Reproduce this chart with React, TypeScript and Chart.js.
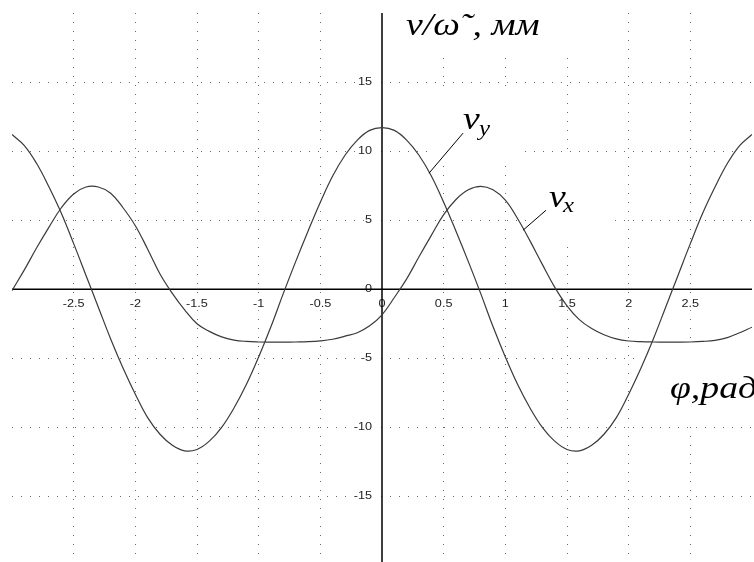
import React, { useEffect, useRef } from "react";
import { Chart, registerables } from "chart.js";

Chart.register(...registerables);

// Crank angle φ, rad
const phi = [
  -3.0, -2.9, -2.8, -2.7, -2.6, -2.5, -2.4, -2.3, -2.2, -2.1,
  -2.0, -1.9, -1.8, -1.7, -1.6, -1.5, -1.4, -1.3, -1.2, -1.1,
  -1.0, -0.9, -0.8, -0.7, -0.6, -0.5, -0.4, -0.3, -0.2, -0.1,
  0.0, 0.1, 0.2, 0.3, 0.4, 0.5, 0.6, 0.7, 0.8, 0.9,
  1.0, 1.1, 1.2, 1.3, 1.4, 1.5, 1.6, 1.7, 1.8, 1.9,
  2.0, 2.1, 2.2, 2.3, 2.4, 2.5, 2.6, 2.7, 2.8, 2.9,
  3.0,
];

// Velocity analogue, vertical component v_y, mm
const vyValues = [
  11.2, 10.4, 9.1, 7.4, 5.5, 3.3, 1.0, -1.3, -3.6, -5.7,
  -7.6, -9.3, -10.5, -11.3, -11.7, -11.6, -11.0, -10.0, -8.6, -6.9,
  -4.9, -2.7, -0.3, 2.0, 4.2, 6.3, 8.2, 9.7, 10.8, 11.5,
  11.7, 11.5, 10.8, 9.7, 8.2, 6.3, 4.2, 2.0, -0.3, -2.7,
  -4.9, -6.9, -8.6, -10.0, -11.0, -11.6, -11.7, -11.3, -10.5, -9.3,
  -7.6, -5.7, -3.6, -1.3, 1.0, 3.3, 5.5, 7.4, 9.1, 10.4,
  11.2,
];

// Velocity analogue, horizontal component v_x, mm
const vxValues = [
  -0.1, 1.4, 3.0, 4.5, 5.9, 6.9, 7.4, 7.4, 6.95, 5.9,
  4.6, 2.9, 1.1, -0.3, -1.5, -2.5, -3.05, -3.45, -3.68, -3.78,
  -3.82, -3.83, -3.83, -3.82, -3.8, -3.74, -3.62, -3.4, -3.15, -2.65,
  -1.85, -0.6, 0.75, 2.35, 3.9, 5.4, 6.5, 7.2, 7.45, 7.2,
  6.45, 5.1, 3.5, 1.8, 0.15, -1.2, -2.2, -2.85, -3.3, -3.6,
  -3.75, -3.8, -3.82, -3.83, -3.83, -3.82, -3.78, -3.7, -3.5, -3.15,
  -2.75,
];

// Tick labels written along the axes
const xLabelValues = [-2.5, -2, -1.5, -1, -0.5, 0, 0.5, 1, 1.5, 2, 2.5];
const xLabelText = ["-2.5", "-2", "-1.5", "-1", "-0.5", "0", "0.5", "1", "1.5", "2", "2.5"];
const yLabelValues = [-15, -10, -5, 0, 5, 10, 15];
const yLabelText = ["-15", "-10", "-5", "0", "5", "10", "15"];

// Dotted grid positions (the zero lines are the axes themselves)
const xGridValues = [-2.5, -2, -1.5, -1, -0.5, 0.5, 1, 1.5, 2, 2.5];
const yGridValues = [-15, -10, -5, 5, 10, 15];

const X_MIN = -3;
const X_MAX = 3;
const Y_MIN = -19.75;
const Y_MAX = 20;

const SERIF = '"Liberation Serif", "Times New Roman", serif';
const SANS = '"Liberation Sans", Arial, sans-serif';
const TICK_FONT = `11px ${SANS}`;
const TICK_STRETCH = 1.15;
const LABEL_FONT = `italic 32px ${SERIF}`;
const SUB_FONT = `italic 21px ${SERIF}`;
const LABEL_STRETCH = 1.18;

// Text regions (data units) that blank out the grid behind them
const textBoxes = [
  { x0: 0.06, x1: 1.72, y0: 16.9, y1: 21 },
  { x0: 0.43, x1: 1.135, y0: 9.5, y1: 14.7 },
  { x0: 1.168, x1: 1.865, y0: 3.19, y1: 9.63 },
  { x0: 2.09, x1: 3.2, y0: -9.49, y1: -4.06 },
];

type Label = { text: string; x: number; y: number; font: string };
const labels: Label[] = [
  { text: "v/ω˜, мм", x: 0.195, y: 18.4, font: LABEL_FONT },
  { text: "v", x: 0.657, y: 11.59, font: LABEL_FONT },
  { text: "y", x: 0.787, y: 11.15, font: SUB_FONT },
  { text: "v", x: 1.354, y: 5.94, font: LABEL_FONT },
  { text: "x", x: 1.468, y: 5.58, font: SUB_FONT },
  { text: "φ,рад", x: 2.335, y: -7.89, font: LABEL_FONT },
];

// Leader lines from each curve name to its curve
const leaders = [
  { x0: 0.657, y0: 11.3, x1: 0.381, y1: 8.4 },
  { x0: 1.33, y0: 5.72, x1: 1.143, y1: 4.27 },
];

function stretched(
  ctx: CanvasRenderingContext2D,
  text: string,
  x: number,
  y: number,
  align: CanvasTextAlign,
  k: number
) {
  ctx.save();
  ctx.translate(x, y);
  ctx.scale(k, 1);
  ctx.textAlign = align;
  ctx.fillText(text, 0, 0);
  ctx.restore();
}

const sheetPlugin = {
  id: "sheet",
  beforeDatasetsDraw(chart: any) {
    const { ctx, chartArea } = chart;
    const xs = chart.scales.x;
    const ys = chart.scales.y;
    ctx.save();

    ctx.fillStyle = "#fff";
    for (const b of textBoxes) {
      const l = xs.getPixelForValue(b.x0);
      const r = xs.getPixelForValue(b.x1);
      const t = ys.getPixelForValue(b.y1);
      const bt = ys.getPixelForValue(b.y0);
      ctx.fillRect(l, t, r - l, bt - t);
    }

    const ox = xs.getPixelForValue(0);
    const oy = ys.getPixelForValue(0);
    ctx.font = TICK_FONT;
    ctx.textBaseline = "middle";

    xLabelValues.forEach((v, i) => {
      const txt = xLabelText[i];
      const px = xs.getPixelForValue(v);
      const py = oy + 15;
      const w = ctx.measureText(txt).width * TICK_STRETCH;
      ctx.fillStyle = "#fff";
      ctx.fillRect(px - w / 2 - 1, py - 6, w + 2, 12);
      ctx.fillStyle = "#222";
      stretched(ctx, txt, px, py, "center", TICK_STRETCH);
    });

    yLabelValues.forEach((v, i) => {
      const txt = yLabelText[i];
      const px = ox - 10;
      const py = ys.getPixelForValue(v);
      const w = ctx.measureText(txt).width * TICK_STRETCH;
      ctx.fillStyle = "#fff";
      ctx.fillRect(px - w - 1, py - 6, w + 2, 12);
      ctx.fillStyle = "#222";
      stretched(ctx, txt, px, py, "right", TICK_STRETCH);
    });

    ctx.strokeStyle = "#000";
    ctx.lineWidth = 1.5;
    ctx.beginPath();
    ctx.moveTo(chartArea.left, oy);
    ctx.lineTo(chartArea.right, oy);
    ctx.moveTo(ox, chartArea.top);
    ctx.lineTo(ox, chartArea.bottom);
    ctx.stroke();
    ctx.restore();
  },
  afterDatasetsDraw(chart: any) {
    const { ctx } = chart;
    const xs = chart.scales.x;
    const ys = chart.scales.y;
    ctx.save();
    ctx.strokeStyle = "#000";
    ctx.lineWidth = 1;
    ctx.beginPath();
    for (const l of leaders) {
      ctx.moveTo(xs.getPixelForValue(l.x0), ys.getPixelForValue(l.y0));
      ctx.lineTo(xs.getPixelForValue(l.x1), ys.getPixelForValue(l.y1));
    }
    ctx.stroke();

    ctx.fillStyle = "#000";
    ctx.textBaseline = "alphabetic";
    for (const lb of labels) {
      ctx.font = lb.font;
      stretched(ctx, lb.text, xs.getPixelForValue(lb.x), ys.getPixelForValue(lb.y), "left", LABEL_STRETCH);
    }
    ctx.restore();
  },
};

export default function App() {
  const canvasRef = useRef<HTMLCanvasElement | null>(null);

  useEffect(() => {
    const canvas = canvasRef.current;
    if (!canvas) return;
    const lineStyle = {
      borderColor: "#3a3a3a",
      borderWidth: 1.2,
      pointRadius: 0,
      fill: false,
      tension: 0.4,
    };
    const chart = new Chart(canvas, {
      type: "line",
      data: {
        datasets: [
          { label: "v_y", data: phi.map((x, i) => ({ x, y: vyValues[i] })), ...lineStyle },
          { label: "v_x", data: phi.map((x, i) => ({ x, y: vxValues[i] })), ...lineStyle },
        ],
      },
      options: {
        animation: false,
        responsive: true,
        maintainAspectRatio: false,
        events: [],
        layout: { padding: { left: 12, right: 2, top: 13, bottom: 0 } },
        plugins: {
          legend: { display: false },
          tooltip: { enabled: false },
          title: { display: false },
        },
        scales: {
          x: {
            type: "linear",
            min: X_MIN,
            max: X_MAX,
            afterBuildTicks: (s: any) => {
              s.ticks = xGridValues.map((v) => ({ value: v }));
            },
            afterFit: (s: any) => {
              s.height = 0;
            },
            ticks: { display: false },
            grid: { color: "#6a6a6a", lineWidth: 1, drawTicks: false, tickLength: 0 },
            border: { display: false, dash: [1, 8] },
          },
          y: {
            type: "linear",
            min: Y_MIN,
            max: Y_MAX,
            afterBuildTicks: (s: any) => {
              s.ticks = yGridValues.map((v) => ({ value: v }));
            },
            afterFit: (s: any) => {
              s.width = 0;
            },
            ticks: { display: false },
            grid: { color: "#6a6a6a", lineWidth: 1, drawTicks: false, tickLength: 0 },
            border: { display: false, dash: [1, 8] },
          },
        },
      },
      plugins: [sheetPlugin],
    });
    return () => chart.destroy();
  }, []);

  return (
    <div
      style={{
        position: "fixed",
        left: 0,
        top: 0,
        width: 754,
        height: 562,
        background: "#fff",
      }}
    >
      <canvas ref={canvasRef} />
    </div>
  );
}
